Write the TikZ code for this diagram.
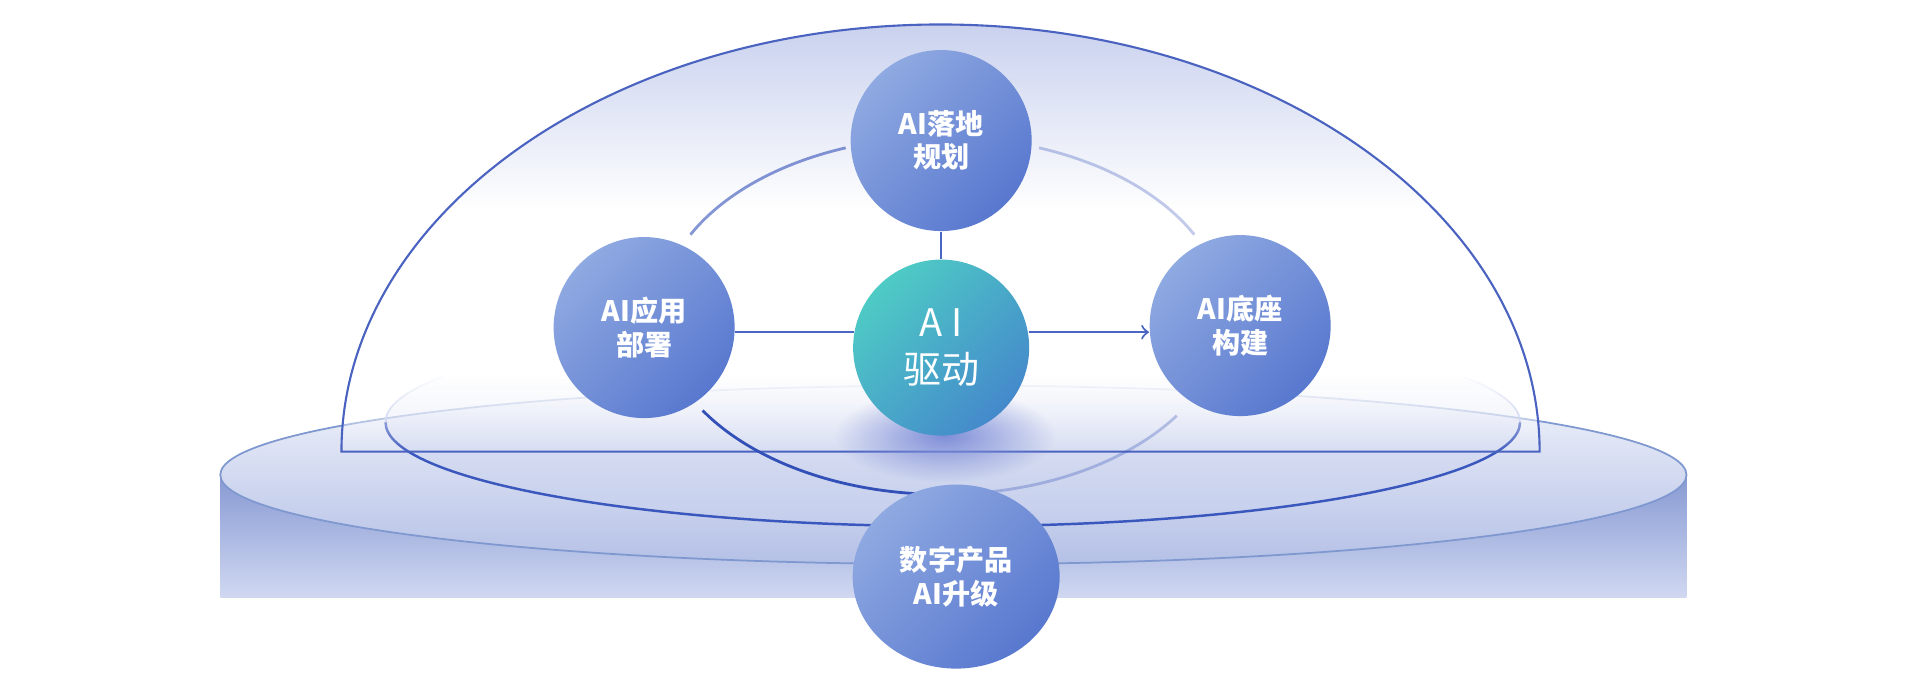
\documentclass[tikz,border=0pt]{standalone}
\usepackage{fontspec}
\usepackage{tikz}
\usetikzlibrary{positioning, shapes.geometric, fadings}
\newfontfamily\cjk{Noto Sans CJK SC}

\definecolor{satlight}{HTML}{8FA9E1}
\definecolor{satdark}{HTML}{5878CF}
\definecolor{corelight}{HTML}{4ECBC5}
\definecolor{coredark}{HTML}{4489CB}
\definecolor{linkblue}{HTML}{4A66C4}
\definecolor{domeline}{HTML}{4A62C0}
\definecolor{domeblue}{HTML}{C9D1EE}
\definecolor{orbitblue}{HTML}{3350B8}
\definecolor{sideblue}{HTML}{8799D3}
\definecolor{sidelight}{HTML}{D0D8F1}
\definecolor{disktop}{HTML}{F2F4FB}
\definecolor{diskbot}{HTML}{B4C0E6}
\definecolor{rimblue}{HTML}{7F98CF}
\definecolor{ringblue}{HTML}{3A57BE}
\definecolor{ringfill}{HTML}{C8D1EE}
\definecolor{glowblue}{HTML}{7F8ED8}

\tikzfading[name=fadedown, top color=transparent!0, bottom color=transparent!100]
\tikzfading[name=glow, inner color=transparent!0, outer color=transparent!100]

\begin{document}
\begin{tikzpicture}[x=0.01224cm, y={(0cm,-0.01224cm)}, node distance=2.07cm]
        \tikzstyle{sat}=[circle, minimum size=1.81cm, inner sep=0pt, top color=satlight, bottom color=satdark, shading angle=45, text=white, align=center, font=\cjk\bfseries\fontsize{8}{9.5}\selectfont];
        \tikzstyle{core}=[sat, minimum size=1.76cm, top color=corelight, bottom color=coredark, shading angle=45, font=\cjk\fontsize{10.8}{13.5}\selectfont];
        \tikzstyle{link}=[draw=linkblue, line width=0.6pt];
        \useasboundingbox (0,0) rectangle (1568,569);

        % platform
        \shade[top color=sideblue, bottom color=sidelight] (180,388) rectangle (1378,488);
        \draw[rimblue, line width=0.5pt, top color=disktop, bottom color=diskbot] (779,388) ellipse [x radius=599, y radius=73];
        \fill[ringfill, fill opacity=0.35] (778.5,345) ellipse [x radius=463.5, y radius=85];
        \draw[ringblue, line width=0.7pt] (1242,345) arc[start angle=0, end angle=180, x radius=463.5, y radius=85];
        \draw[ringblue!40, line width=0.5pt] (315,345) arc[start angle=180, end angle=360, x radius=463.5, y radius=85];

        % dome
        \begin{scope}
          \clip (279,369) arc[start angle=180, end angle=360, x radius=489.5, y radius=349] -- cycle;
          \fill[white] (279,170) rectangle (1258,306);
          \shade[top color=domeblue, bottom color=white] (279,20) rectangle (1258,171);
          \fill[white, path fading=fadedown] (279,305) rectangle (1258,372);
        \end{scope}
        \draw[domeline, line width=0.6pt] (279,369) arc[start angle=180, end angle=360, x radius=489.5, y radius=349] -- cycle;

        % orbit
        \draw[orbitblue, line width=0.8pt, opacity=0.6] (770,258) ++(207:231 and 146) arc[start angle=207, end angle=250, x radius=231, y radius=146];
        \draw[orbitblue, line width=0.8pt, opacity=0.3] (770,258) ++(290:231 and 146) arc[start angle=290, end angle=333, x radius=231, y radius=146];
        \draw[orbitblue, line width=0.8pt] (770,258) ++(148:231 and 146) arc[start angle=148, end angle=90, x radius=231, y radius=146];
        \draw[orbitblue, line width=0.8pt, opacity=0.3] (770,258) ++(90:231 and 146) arc[start angle=90, end angle=34, x radius=231, y radius=146];
        \fill[glowblue, path fading=glow] (772,356) ellipse [x radius=90, y radius=38];

        \node[core] (drive) at (769,284) {A I\\驱动};
        \node[sat, above of=drive] (plan) {AI落地\\规划};
        \node[sat, left of=drive, xshift=-0.9cm, yshift=0.2cm] (deploy) {AI应用\\部署};
        \node[sat, right of=drive, xshift=0.92cm, yshift=0.22cm] (base) {AI底座\\构建};
        \node[sat, ellipse, minimum width=2.07cm, minimum height=1.84cm, below of=drive, xshift=0.15cm, yshift=-0.22cm] (upgrade) {数字产品\\AI升级};

        \path[link]
        (plan) edge (drive)
        (deploy.east |- drive.170) edge (drive.170)
        (drive.10) edge[->] (base.west |- drive.10);
      \end{tikzpicture}
\end{document}
